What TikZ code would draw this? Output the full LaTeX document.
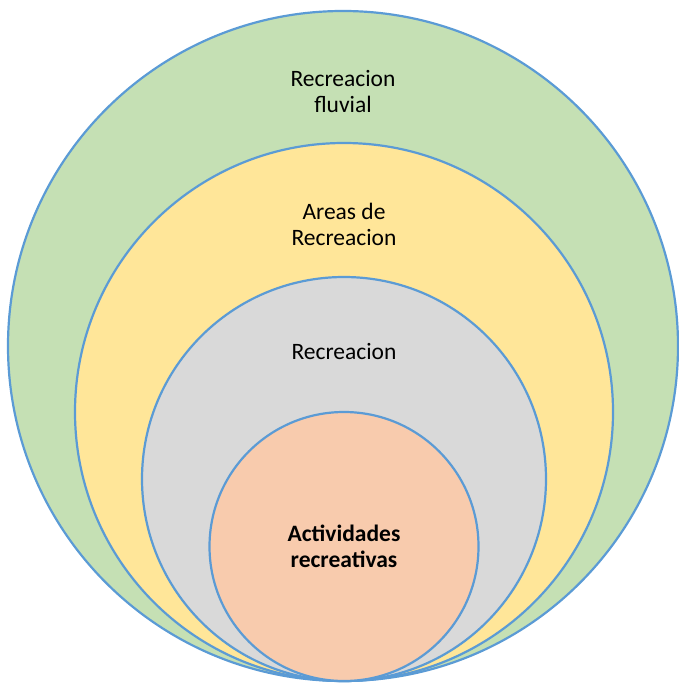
\documentclass[tikz,border=0pt]{standalone}
\usepackage{fontspec}
\setmainfont{Carlito}
\usetikzlibrary{positioning}

\definecolor{ringblue}{HTML}{5B9BD5}
\definecolor{ringgreen}{HTML}{C5E0B4}
\definecolor{ringyellow}{HTML}{FFE699}
\definecolor{ringgray}{HTML}{D9D9D9}
\definecolor{ringorange}{HTML}{F8CBAD}

\begin{document}
\begin{tikzpicture}[x = 1pt, y = -1pt,
    ring/.style = {circle, draw = ringblue, line width = 2.2pt, inner sep = 0pt, minimum size = #1},
    label/.style = {align = center, font = \fontsize{23.5}{26}\selectfont, text = black}]
            \useasboundingbox (0,0) rectangle (678,684);
            \node[ring = 670pt, fill = ringgreen] (fluvial) at (343,346) {};
            \node[ring = 538pt, fill = ringyellow] (areas) at (344,412) {};
            \node[ring = 404pt, fill = ringgray] (recre) at (344,479) {};
            \node[ring = 269pt, fill = ringorange] (activ) at (344,546.5) {};
            % texts
            \node[label] (tfluvial) at (343,92) {Recreacion\\fluvial};
            \node[label] (tareas) at (344,224) {Areas de\\Recreacion};
            \node[label] (trecre) at (344,352) {Recreacion};
            \node[label, font = \fontsize{23.5}{26}\selectfont\bfseries] (tactiv) at (344,546) {Actividades\\recreativas};
        \end{tikzpicture}
\end{document}
